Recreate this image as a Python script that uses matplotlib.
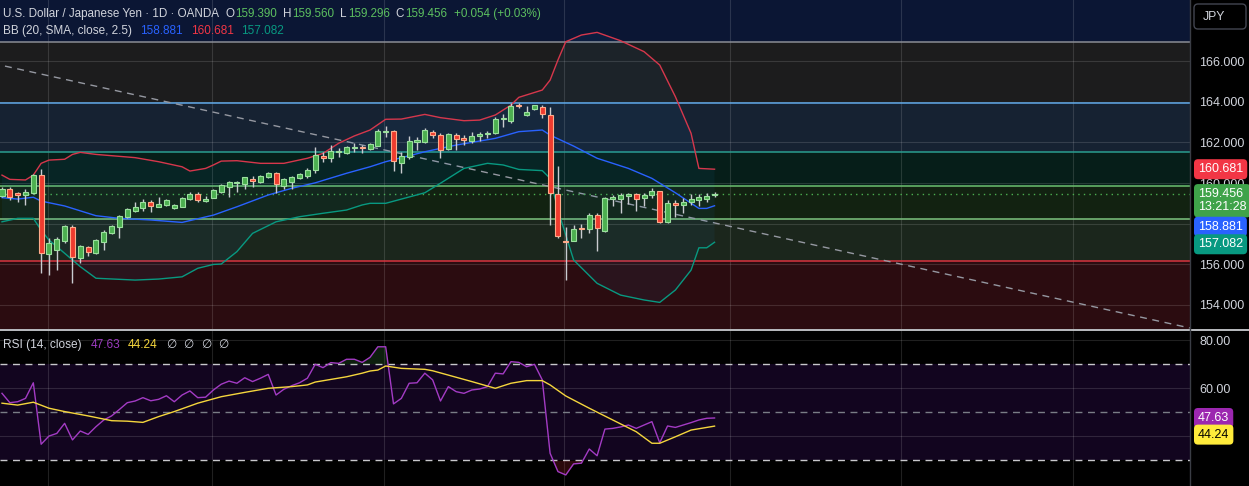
import matplotlib
matplotlib.use("Agg")
import matplotlib.pyplot as plt
import numpy as np
from matplotlib.patches import FancyBboxPatch

plt.rcParams['font.family'] = ['Liberation Sans', 'DejaVu Sans']

W, H, DPI = 1249, 486, 100

# ---------------- data ----------------
opens = [159.35, 159.69, 159.52, 159.41, 159.49, 160.39, 156.49, 156.70, 157.16, 157.82,
         156.29, 156.86, 156.57, 157.11, 157.55, 157.82, 158.31, 158.64, 158.78, 159.05,
         158.83, 158.90, 158.75, 158.83, 159.21, 159.46, 159.11, 159.28, 159.57, 159.82,
         160.02, 159.95, 160.18, 160.03, 160.28, 160.48, 159.85, 160.06, 160.25, 160.34,
         160.64, 161.35, 161.22, 161.51, 161.46, 161.74, 161.76, 161.66, 161.84, 162.50,
         162.56, 161.00, 161.30, 162.03, 162.03, 162.53, 162.36, 161.66, 162.36, 162.20,
         162.08, 162.33, 162.41, 162.45, 163.17, 163.07, 163.84, 163.35, 163.65, 163.76,
         163.35, 159.44, 157.12, 157.16, 157.80, 157.72, 158.42, 157.65, 159.23, 159.23,
         159.37, 159.44, 159.28, 159.41, 159.61, 158.09, 159.03, 158.92, 159.05, 159.16,
         159.20, 159.39]
highs = [159.78, 159.79, 159.58, 159.73, 160.45, 160.67, 157.29, 157.35, 157.92, 157.93,
         156.95, 156.92, 157.22, 157.68, 157.92, 158.42, 158.76, 159.08, 159.21, 159.16,
         159.30, 159.20, 158.96, 159.30, 159.57, 159.57, 159.36, 159.70, 159.95, 160.08,
         160.10, 160.32, 160.34, 160.38, 160.56, 160.56, 160.24, 160.35, 160.48, 160.75,
         161.76, 161.54, 161.87, 161.71, 161.80, 161.96, 161.87, 161.96, 162.65, 162.81,
         162.62, 161.54, 162.32, 162.28, 162.72, 162.61, 162.45, 162.48, 162.48, 162.36,
         162.50, 162.53, 162.58, 163.24, 163.40, 163.93, 163.93, 163.79, 163.86, 163.84,
         163.73, 160.84, 157.85, 157.93, 157.98, 158.54, 158.54, 159.33, 159.41, 159.49,
         159.52, 159.52, 159.52, 159.74, 159.62, 159.16, 159.16, 159.25, 159.44, 159.44,
         159.49, 159.56]
lows = [159.30, 159.16, 159.08, 158.94, 159.45, 155.55, 155.47, 155.71, 157.06, 155.06,
        156.04, 156.40, 156.52, 156.70, 157.50, 157.28, 158.27, 158.59, 158.64, 158.59,
        158.80, 158.86, 158.70, 158.80, 159.16, 159.06, 159.05, 159.24, 159.52, 159.33,
        159.57, 159.70, 159.82, 160.00, 160.24, 159.52, 159.69, 159.69, 160.20, 160.23,
        160.48, 161.05, 161.05, 161.30, 161.42, 161.54, 161.49, 161.62, 161.80, 162.28,
        160.59, 160.48, 161.18, 161.63, 161.99, 162.23, 161.25, 161.63, 161.63, 161.87,
        161.96, 162.08, 162.20, 162.41, 162.77, 162.94, 163.68, 163.32, 163.60, 163.22,
        157.93, 157.28, 155.22, 157.12, 157.31, 157.55, 156.67, 157.60, 158.87, 158.54,
        158.97, 158.62, 158.87, 159.25, 158.01, 158.01, 158.34, 158.54, 158.92, 158.87,
        159.08, 159.296]
closes = [159.70, 159.30, 159.41, 159.57, 160.39, 156.57, 157.03, 157.24, 157.88, 156.34,
          156.90, 156.62, 157.19, 157.60, 157.88, 158.37, 158.72, 158.83, 159.05, 158.88,
          158.97, 159.16, 158.92, 159.25, 159.44, 159.16, 159.20, 159.66, 159.90, 160.03,
          160.04, 160.28, 160.11, 160.34, 160.51, 159.94, 160.20, 160.31, 160.44, 160.64,
          161.38, 161.25, 161.58, 161.58, 161.76, 161.79, 161.71, 161.92, 162.56, 162.56,
          161.08, 161.33, 162.07, 162.12, 162.61, 162.36, 161.63, 162.43, 162.17, 162.12,
          162.32, 162.40, 162.48, 163.15, 163.20, 163.79, 163.79, 163.51, 163.82, 163.38,
          159.49, 157.39, 157.08, 157.72, 157.72, 158.42, 157.77, 159.25, 159.30, 159.41,
          159.46, 159.23, 159.41, 159.62, 158.09, 159.00, 158.92, 159.08, 159.20, 159.30,
          159.37, 159.456]

bb_upper_idx = [0, 1, 3, 4, 5, 6, 8, 9, 10, 12, 17, 20, 23, 24, 26, 27, 28, 30, 33, 36,
                39, 41, 43, 45, 47, 49, 51, 54, 56, 59, 61, 63, 65, 66, 69, 70, 71, 72, 74, 76,
                79, 82, 84, 86, 88, 89, 91]
bb_upper = [160.39, 160.18, 160.15, 160.39, 160.97, 161.13, 161.17, 161.41, 161.51, 161.41,
            161.25, 161.05, 160.80, 160.59, 160.72, 160.89, 161.08, 161.10, 160.97, 160.97,
            161.22, 161.46, 161.96, 162.32, 162.61, 163.14, 163.15, 163.38, 163.22, 163.07,
            163.10, 163.35, 163.84, 164.22, 164.58, 165.07, 166.06, 166.96, 167.29, 167.42,
            167.01, 166.47, 165.81, 164.25, 162.45, 160.72, 160.681]
bb_mid_idx = [0, 2, 4, 5, 8, 12, 15, 19, 23, 27, 30, 34, 37, 40, 44, 47, 49, 54, 58, 63,
              66, 69, 70, 73, 76, 80, 83, 86, 89, 90, 91]
bb_mid = [159.28, 159.21, 159.30, 159.11, 158.87, 158.39, 158.26, 158.18, 158.06, 158.42,
          158.83, 159.41, 159.74, 160.01, 160.48, 160.80, 161.05, 161.54, 161.87, 162.20,
          162.53, 162.61, 162.36, 161.82, 161.22, 160.72, 160.23, 159.52, 158.75, 158.75, 158.881]
bb_low_idx = [0, 2, 4, 5, 6, 8, 10, 12, 17, 20, 23, 25, 27, 28, 30, 32, 35, 38, 41, 44,
              46, 47, 49, 54, 56, 59, 62, 64, 66, 69, 70, 71, 73, 76, 79, 82, 84, 86, 88, 89,
              90, 91]
bb_low = [158.09, 158.26, 158.26, 157.68, 157.19, 156.54, 155.88, 155.31, 155.22, 155.27,
          155.38, 155.80, 155.99, 156.01, 156.62, 157.52, 158.09, 158.34, 158.51, 158.67,
          158.92, 159.00, 159.00, 159.52, 159.99, 160.72, 160.97, 160.89, 160.67, 160.61,
          160.23, 158.67, 156.21, 155.06, 154.48, 154.24, 154.12, 154.73, 155.71, 156.81,
          156.81, 157.082]

rsi = [57.9, 54.0, 54.4, 55.8, 62.3, 36.7, 40.1, 41.2, 45.4, 38.5,
       42.2, 40.8, 44.0, 46.8, 48.5, 51.2, 54.0, 54.7, 56.1, 54.8,
       55.4, 56.9, 54.4, 57.2, 58.9, 56.1, 56.3, 59.3, 61.7, 63.0,
       62.1, 64.4, 62.8, 64.2, 65.8, 57.2, 59.6, 61.1, 62.3, 64.2,
       70.0, 68.6, 70.7, 70.4, 72.1, 72.1, 70.8, 72.9, 77.3, 77.3,
       53.5, 55.8, 62.1, 62.3, 66.3, 63.5, 54.7, 60.7, 58.6, 57.9,
       59.3, 59.7, 60.7, 66.3, 66.0, 71.1, 70.8, 69.0, 70.0, 63.5,
       32.9, 25.3, 23.9, 28.5, 28.8, 34.7, 31.9, 43.0, 43.3, 43.9,
       44.7, 43.3, 44.7, 46.1, 37.3, 44.3, 43.7, 44.7, 45.7, 46.8,
       47.5, 47.63]
rsi_ma_idx = [0, 2, 4, 6, 8, 11, 14, 16, 18, 20, 22, 25, 28, 31, 34, 37, 39, 40, 44, 46,
              47, 48, 49, 51, 54, 55, 57, 60, 63, 65, 67, 69, 70, 72, 75, 78, 81, 83, 84, 86,
              88, 91]
rsi_ma = [53.8, 53.0, 54.2, 51.7, 50.3, 48.5, 46.5, 46.3, 45.8, 48.2, 50.3, 53.8, 56.5,
          58.3, 60.0, 60.7, 61.4, 62.6, 64.8, 66.3, 67.2, 67.6, 69.3, 68.3, 67.9, 67.3,
          65.5, 62.8, 60.0, 62.1, 63.2, 63.2, 61.4, 56.8, 51.7, 46.8, 41.9, 37.1, 37.1,
          39.8, 42.6, 44.24]

price_ticks = [154, 156, 158, 160, 162, 164, 166]
price_tick_labels = ['154.000', '156.000', '', '160.000', '162.000', '164.000', '166.000']
rsi_ticks = [40, 60, 80]
rsi_tick_labels = ['', '60.00', '80.00']

# user drawn horizontal levels and zones
zone_levels = [152.0, 156.17, 158.21, 159.85, 161.51, 163.93, 166.93, 170.0]
zone_colors = ['#2b0c10', '#1b261c', '#122211', '#061e19', '#162232', '#1c1c1d', '#0b1634']
level_values = [156.17, 158.21, 159.85, 161.51, 163.93, 166.93]
level_colors = ['#d8343f', '#7cc47f', '#6cc070', '#2a9d8f', '#5fa8e8', '#8a8d95']
trend_x = [0.38, 151.7]
trend_y = [165.76, 152.86]
last_price = 159.456

# ---------------- layout ----------------
PY = lambda v: v / H
AXW = 1190 / W
fig = plt.figure(figsize=(W / DPI, H / DPI), dpi=DPI, facecolor='black')
ax = fig.add_axes([0, PY(H - 329), AXW, PY(329)])
ax2 = fig.add_axes([0, 0, AXW, PY(156)])

xmin, xmax = -0.255, 151.72
vgrid = [5.9, 26.8, 48.8, 71.8, 93.0, 114.8, 136.8]
TXT = '#d1d4dc'

for a in (ax, ax2):
    a.set_facecolor('black')
    a.set_xlim(xmin, xmax)
    for s in a.spines.values():
        s.set_visible(False)
    a.set_xticks(vgrid)
    a.tick_params(axis='x', length=0, labelbottom=False)
    a.yaxis.tick_right()
    a.tick_params(axis='y', length=0, pad=6.5, labelcolor=TXT, labelsize=9)
    a.set_axisbelow(True)
    a.grid(True, color='white', alpha=0.13, lw=0.8)

# ---------------- price pane ----------------
ax.set_ylim(152.81, 169.015)
ax.set_yticks(price_ticks, labels=price_tick_labels)
for i in range(len(zone_colors)):
    ax.axhspan(zone_levels[i], zone_levels[i + 1], color=zone_colors[i], lw=0, zorder=0.1)
for v, c in zip(level_values, level_colors):
    ax.axhline(v, color=c, lw=1.1, zorder=1)
ax.plot(trend_x, trend_y, color='#9598a1', lw=1.0, ls=(0, (5, 4)), zorder=1.5)
ax.axhline(last_price, color='#4caf50', lw=1.0, ls=(0, (1, 3)), zorder=1.5)

# Bollinger bands
ax.fill(np.r_[bb_upper_idx, bb_low_idx[::-1]], np.r_[bb_upper, bb_low[::-1]],
        color='#2196f3', alpha=0.06, lw=0, zorder=1.6)
ax.plot(bb_upper_idx, bb_upper, color='#d6374c', lw=1.0, zorder=2)
ax.plot(bb_mid_idx, bb_mid, color='#2962ff', lw=1.0, zorder=2)
ax.plot(bb_low_idx, bb_low, color='#089981', lw=1.0, zorder=2)

# candles
idx = np.arange(len(closes))
o = np.array(opens); c = np.array(closes); hi = np.array(highs); lo = np.array(lows)
up = c >= o
ax.vlines(idx, lo, hi, color='#c9cbd0', lw=1.0, zorder=3)
body_b = np.minimum(o, c)
body_h = np.maximum(np.abs(c - o), 0.05)
ax.bar(idx[up], body_h[up], bottom=body_b[up], width=0.64, color='#4caf50',
       edgecolor='#9be09e', lw=0.8, zorder=4)
ax.bar(idx[~up], body_h[~up], bottom=body_b[~up], width=0.64, color='#ef3b2f',
       edgecolor='#ffab8a', lw=0.8, zorder=4)

# legend texts: (text, colour, gap in px before it)
def chain(a, x, y, parts, size=8.6):
    prev = None
    for s, col, gap in parts:
        if prev is None:
            prev = a.text(x, y, s, color=col, fontsize=size, va='center', ha='left',
                          transform=a.transAxes, zorder=20)
        else:
            prev = a.annotate(s, xy=(1, 0.5), xycoords=prev, xytext=(gap, 0),
                              textcoords='offset pixels', color=col, fontsize=size,
                              va='center', ha='left', zorder=20)
    return prev

G = '#5cbf60'
chain(ax, 3 / 1190, 1 - 14 / 329,
      [('U.S. Dollar / Japanese Yen · 1D · OANDA', TXT, 0), ('O', TXT, 6), ('159.390', G, 1),
       ('H', TXT, 6), ('159.560', G, 1), ('L', TXT, 6), ('159.296', G, 1), ('C', TXT, 6),
       ('159.456', G, 1), ('+0.054 (+0.03%)', G, 7)], size=8.4)
chain(ax, 3 / 1190, 1 - 31 / 329,
      [('BB (20, SMA, close, 2.5)', TXT, 0), ('158.881', '#2962ff', 8),
       ('160.681', '#f23645', 8), ('157.082', '#089981', 8)], size=8.5)

def tag(a, value, text, fc, tc='white', dy=0, va='center'):
    a.annotate(text, xy=(1, value), xycoords=a.get_yaxis_transform(), xytext=(8, dy),
               textcoords='offset pixels', ha='left', va=va, color=tc, fontsize=9,
               bbox=dict(boxstyle='round,pad=0.32', fc=fc, ec='none'),
               annotation_clip=False, zorder=30, linespacing=1.15)

tag(ax, 160.681, '160.681', '#f23645')
tag(ax, last_price, '159.456\n13:21:28', '#3fa34a', dy=6, va='top')
tag(ax, 158.881, '158.881', '#2962ff', dy=-21)
tag(ax, 157.082, '157.082', '#089981', dy=-2)

# ---------------- RSI pane ----------------
ax2.set_ylim(19.29, 84.29)
ax2.set_yticks(rsi_ticks, labels=rsi_tick_labels)
ax2.axhspan(30, 70, color='#12051f', lw=0, zorder=0.1)
ax2.axhline(70, color='#c8c8cc', lw=1.0, ls=(0, (5, 4)), zorder=1)
ax2.axhline(30, color='#c8c8cc', lw=1.0, ls=(0, (5, 4)), zorder=1)
ax2.axhline(50, color='#7a7d86', lw=1.0, ls=(0, (5, 4)), zorder=1)
r = np.array(rsi)
ax2.fill_between(idx, r, 70, where=r > 70, interpolate=True, color='#4caf50', alpha=0.18, lw=0, zorder=1.2)
ax2.fill_between(idx, r, 30, where=r < 30, interpolate=True, color='#f23645', alpha=0.18, lw=0, zorder=1.2)
ax2.plot(idx, rsi, color='#a33bc4', lw=1.0, zorder=2)
ax2.plot(rsi_ma_idx, rsi_ma, color='#f5d63d', lw=1.0, zorder=2.1)

chain(ax2, 3 / 1190, (486 - 345) / 156,
      [('RSI (14, close)', TXT, 0), ('47.63', '#9c3cc0', 9), ('44.24', '#f5d63d', 7),
       ('∅', TXT, 9), ('∅', TXT, 7), ('∅', TXT, 7), ('∅', TXT, 7)], size=8.6)
tag(ax2, 47.63, '47.63', '#9c27b0')
tag(ax2, 44.24, '44.24', '#ffeb3b', tc='black', dy=-8.5)

# ---------------- overlay decorations (pixel coords) ----------------
ov2 = fig.add_axes([0, 0, 1, 1], zorder=5)
ov2.set_xlim(0, W); ov2.set_ylim(H, 0); ov2.axis('off'); ov2.patch.set_alpha(0)
ov2.plot([0, W], [329.6, 329.6], color='#c9cbd0', lw=1.3)
ov2.plot([1190.5, 1190.5], [0, H], color='#3a3d45', lw=1.0)
ov2.add_patch(FancyBboxPatch((1194, 4), 52, 25, boxstyle='round,pad=0,rounding_size=4',
                             fc='black', ec='#434651', lw=1.0))
ov2.text(1203, 16.5, 'JPY', color=TXT, fontsize=8.8, va='center', ha='left')

fig.savefig('out.png', dpi=DPI, facecolor='black')
